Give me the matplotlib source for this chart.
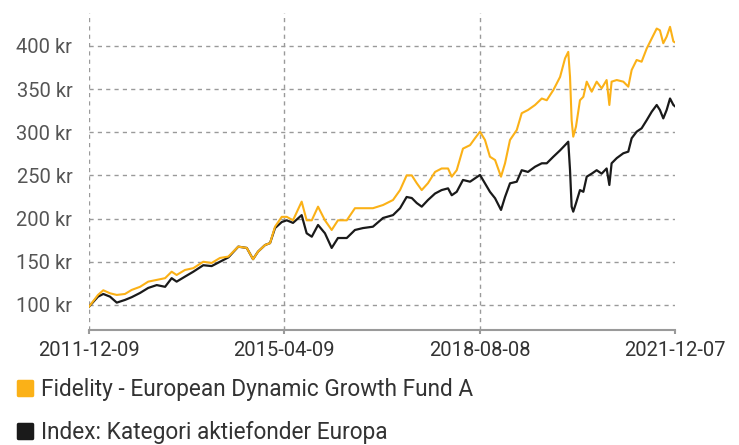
import pandas as pd
import matplotlib.pyplot as plt
from matplotlib.lines import Line2D
from matplotlib.markers import MarkerStyle

dates = ['2011-12-09', '2012-02-03', '2012-03-07', '2012-04-18', '2012-05-30', '2012-07-20',
         '2012-08-31', '2012-10-22', '2012-12-12', '2013-02-03', '2013-03-27', '2013-05-07',
         '2013-06-07', '2013-07-29', '2013-09-19', '2013-11-20', '2014-01-11', '2014-03-04',
         '2014-04-25', '2014-06-26', '2014-08-18', '2014-09-26', '2014-10-27', '2014-12-10',
         '2015-01-10', '2015-02-10', '2015-03-24', '2015-04-24', '2015-06-02', '2015-07-26',
         '2015-08-26', '2015-09-27', '2015-11-05', '2015-12-18', '2016-01-29', '2016-03-08',
         '2016-05-02', '2016-06-22', '2016-08-11', '2016-10-12', '2016-12-14', '2017-02-14',
         '2017-03-30', '2017-05-10', '2017-06-11', '2017-07-12', '2017-08-12', '2017-09-20',
         '2017-11-03', '2017-12-14', '2018-01-23', '2018-02-15', '2018-03-18', '2018-04-26',
         '2018-06-09', '2018-07-10', '2018-08-10', '2018-09-10', '2018-10-11', '2018-11-12',
         '2018-12-19', '2019-01-13', '2019-02-13', '2019-03-27', '2019-04-27', '2019-06-05',
         '2019-07-19', '2019-08-30', '2019-09-30', '2019-11-10', '2019-12-22', '2020-01-22',
         '2020-02-11', '2020-02-22', '2020-03-03', '2020-03-13', '2020-03-30', '2020-04-24',
         '2020-05-15', '2020-06-05', '2020-07-06', '2020-08-06', '2020-09-06', '2020-10-07',
         '2020-10-24', '2020-11-07', '2020-12-09', '2021-01-19', '2021-02-19', '2021-03-12',
         '2021-04-12', '2021-05-13', '2021-06-14', '2021-07-15', '2021-08-15', '2021-09-04',
         '2021-09-25', '2021-10-16', '2021-11-06', '2021-11-27', '2021-12-07']

fund = [98, 111.6, 117, 113.5, 111.6, 112.7, 117.4, 121, 127, 129, 131, 138.5,
        134.7, 140.5, 142.6, 150, 148.6, 154.4, 156, 167.5, 166, 153, 161.7, 169.4,
        171.6, 190.6, 202, 202, 198, 219.6, 198, 198, 213.8, 198, 186.8, 198,
        198, 212, 212, 212, 215.7, 221.5, 233, 250, 250, 241, 233, 241,
        254, 258, 258, 248.5, 256, 281, 285, 293, 300.6, 291, 271.6, 267.8,
        248.5, 264, 291, 302.5, 322, 325.7, 331.5, 339, 337, 348.8, 364, 385.5,
        393, 364, 314, 294.8, 306.4, 337, 341, 358.5, 346.9, 358.5, 350.8, 360.4,
        331.5, 358.5, 360.4, 358.5, 352.7, 372, 383.6, 381.6, 397, 408.5, 420, 418,
        403, 410.6, 422, 405, 404]

index = [98, 109.6, 112.7, 109.6, 102.7, 105.8, 109, 113.9, 119.7, 123, 121, 131,
         127, 132.8, 138.5, 146, 145, 150, 155, 167.5, 166, 153, 161.7, 169.4,
         171.6, 189, 196, 198, 195, 204, 183, 179, 192.6, 183, 166, 177.5,
         177.5, 186.8, 189, 190.6, 200.7, 204, 212, 225, 223.8, 218, 213.8, 221.5,
         229, 233, 235, 227, 231, 244.7, 242.7, 246.6, 250.5, 240.8, 231, 223.5,
         210, 225, 240.8, 242.7, 256, 254, 260, 264, 264, 271.6, 279, 285,
         289, 256, 213.8, 208, 217.7, 233, 231, 248.5, 252, 256, 252, 258,
         238.9, 264, 270, 275.6, 277.5, 293, 300.6, 304.5, 314, 323.7, 331.5, 325.7,
         316, 325.7, 339, 331.5, 330]

xticks = ['2011-12-09', '2015-04-09', '2018-08-08', '2021-12-07']
yticks = [100, 150, 200, 250, 300, 350, 400]
names = ['Fidelity - European Dynamic Growth Fund A', 'Index: Kategori aktiefonder Europa']
colors = ['#FBB117', '#1a1a1a']

plt.rcParams['font.family'] = ['Roboto', 'DejaVu Sans']

x = pd.to_datetime(dates)
tx = pd.to_datetime(xticks)

fig = plt.figure(figsize=(7.39, 4.45), dpi=100)
ax = fig.add_axes([89 / 739, 1 - 330 / 445, 586 / 739, 317 / 445])

ax.plot(x, index, color=colors[1], lw=1.6, zorder=3)
ax.plot(x, fund, color=colors[0], lw=1.5, zorder=4)

ax.set_xlim(tx[0], tx[-1])
ax.set_ylim(71, 438)
ax.set_xticks(tx)
ax.set_xticklabels(xticks)
ax.set_yticks(yticks)
ax.set_yticklabels([f'{v} kr' for v in yticks])

ax.grid(True, color='#9a9a9a', ls=(0, (3, 3)), lw=1)
ax.get_xgridlines()[-1].set_visible(False)
for s in ['left', 'right', 'top']:
    ax.spines[s].set_visible(False)
ax.spines['bottom'].set_color('#9a9a9a')
ax.spines['bottom'].set_linewidth(1.5)
ax.tick_params(axis='y', length=0, pad=12, labelsize=14.5, labelcolor='#555555')
ax.tick_params(axis='x', length=3, width=1.5, color='#9a9a9a', pad=5, labelsize=14.5, labelcolor='#333333')

sq = MarkerStyle('s', joinstyle='round')
handles = [Line2D([], [], marker=sq, ls='none', color=c, markersize=10, mew=2.5) for c in colors]
fig.legend(handles, names, loc='upper left', bbox_to_anchor=(18 / 739, 1 - 378 / 445),
           frameon=False, fontsize=16.3, handlelength=0.6, handletextpad=0.4,
           labelspacing=0.9, borderpad=0, borderaxespad=0, labelcolor='#333333')

plt.savefig('out.png', dpi=100)
